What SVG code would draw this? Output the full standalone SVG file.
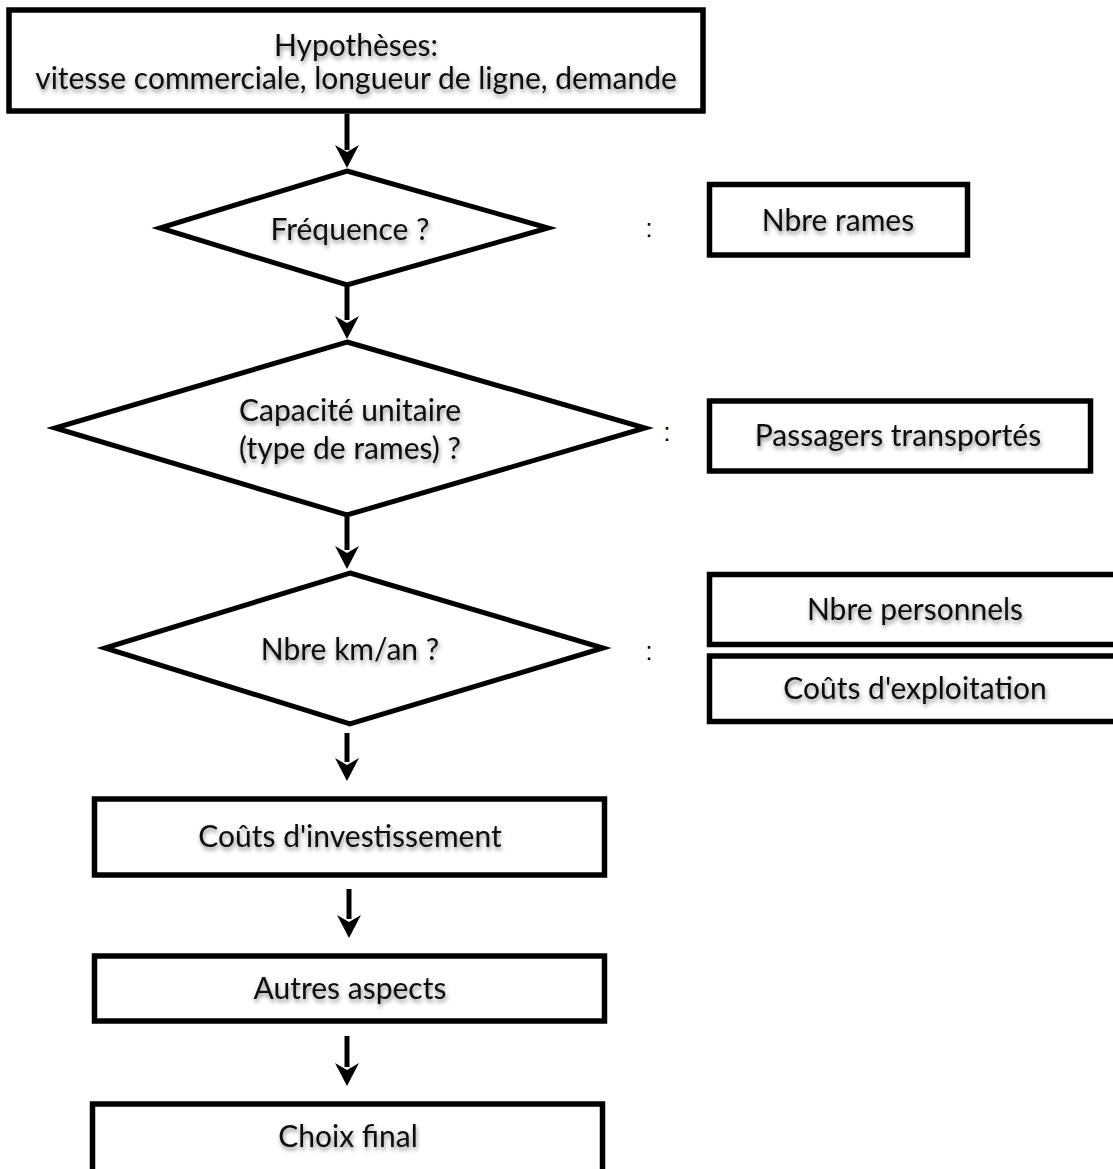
<svg xmlns="http://www.w3.org/2000/svg" width="1113" height="1169" viewBox="0 0 1113 1169">
<defs>
<filter id="sh" x="-10%" y="-40%" width="120%" height="180%">
<feDropShadow dx="1" dy="3" stdDeviation="2" flood-color="#000" flood-opacity="0.45"/>
</filter>
</defs>
<style>
.box{fill:#fff;stroke:#000;stroke-width:5.5}
.dia{fill:#fff;stroke:#000;stroke-width:5}
.t{font-family:Lato,"Open Sans","Liberation Sans",sans-serif;font-size:30px;fill:#111;text-anchor:middle;filter:url(#sh)}
.c{font-family:"Liberation Sans",sans-serif;font-size:25px;fill:#000;text-anchor:middle}
.ar{stroke:#000;stroke-width:5;fill:none}
.hd{fill:#000}
</style>
<rect width="1113" height="1169" fill="#fff"/>
<g id="connectors">
<line class="ar" x1="347" y1="114" x2="347" y2="150"/>
<path class="hd" d="M347,168 L335,145 L347,152 L359,145 Z"/>
<line class="ar" x1="347" y1="286" x2="347" y2="320"/>
<path class="hd" d="M347,339 L335,316 L347,323 L359,316 Z"/>
<line class="ar" x1="347" y1="516" x2="347" y2="550"/>
<path class="hd" d="M347,569 L335,546 L347,553 L359,546 Z"/>
<line class="ar" x1="347" y1="733" x2="347" y2="762"/>
<path class="hd" d="M347,781 L335,758 L347,765 L359,758 Z"/>
<line class="ar" x1="349" y1="889" x2="349" y2="919"/>
<path class="hd" d="M349,938 L337,915 L349,922 L361,915 Z"/>
<line class="ar" x1="347" y1="1036" x2="347" y2="1067"/>
<path class="hd" d="M347,1086 L335,1063 L347,1070 L359,1063 Z"/>
</g>
<g id="hypotheses">
<rect class="box" x="9" y="10" width="694" height="101"/>
<text class="t" x="356" y="56">Hypothèses:</text>
<text class="t" x="356" y="89">vitesse commerciale, longueur de ligne, demande</text>
</g>
<g id="frequence">
<polygon class="dia" points="347,171 548,228 347,285 160,228"/>
<text class="t" x="350" y="240">Fréquence ?</text>
</g>
<g id="capacite">
<polygon class="dia" points="347,342 645,428 347,515 55,428"/>
<text class="t" x="350" y="421">Capacité unitaire</text>
<text class="t" x="350" y="459">(type de rames) ?</text>
</g>
<g id="kmannee">
<polygon class="dia" points="350,573 603,648 350,724 105,648"/>
<text class="t" x="350" y="660">Nbre km/an ?</text>
</g>
<g id="colons">
<text class="c" x="649" y="237">:</text>
<text class="c" x="667" y="441">:</text>
<text class="c" x="649" y="660">:</text>
</g>
<g id="nbre-rames">
<rect class="box" x="709.5" y="184.5" width="258" height="70.5"/>
<text class="t" x="838" y="231">Nbre rames</text>
</g>
<g id="passagers">
<rect class="box" x="709.5" y="401" width="381" height="70"/>
<text class="t" x="898" y="446">Passagers transportés</text>
</g>
<g id="personnels">
<rect class="box" x="709.5" y="574.5" width="412" height="70"/>
<text class="t" x="915" y="620">Nbre personnels</text>
</g>
<g id="exploitation">
<rect class="box" x="709.5" y="656" width="412" height="65.5"/>
<text class="t" x="915" y="699">Coûts d'exploitation</text>
</g>
<g id="investissement">
<rect class="box" x="94.5" y="799" width="510" height="76"/>
<text class="t" x="350" y="847">Coûts d'investissement</text>
</g>
<g id="autres">
<rect class="box" x="94.5" y="956" width="510" height="65"/>
<text class="t" x="350" y="999">Autres aspects</text>
</g>
<g id="choix">
<rect class="box" x="92.5" y="1104" width="510" height="70"/>
<text class="t" x="348" y="1147">Choix final</text>
</g>
</svg>
